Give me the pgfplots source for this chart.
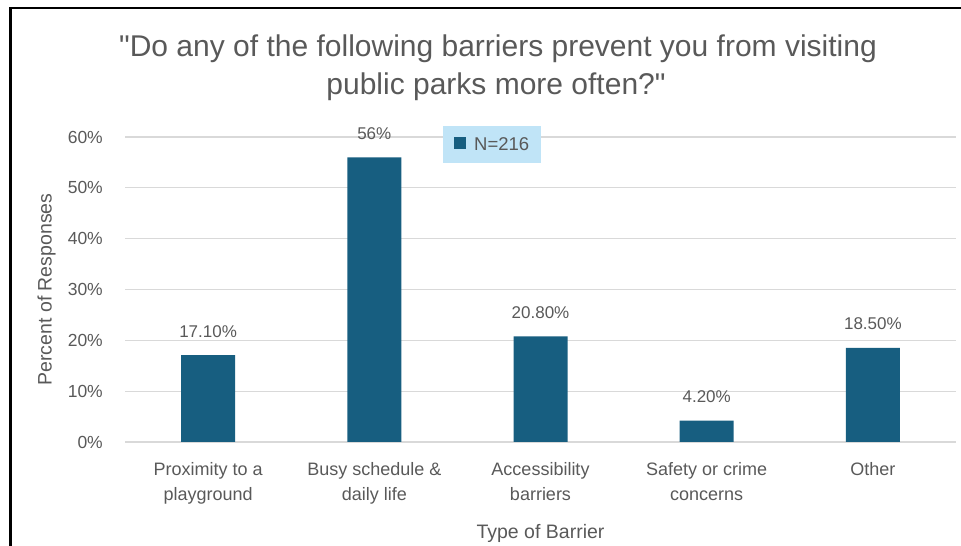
\documentclass[border=0pt]{standalone}
\usepackage{pgfplots}
\pgfplotsset{compat=1.18}
\usepackage{fontspec}
\setmainfont{Liberation Sans}
\newfontfamily\titlefont{Liberation Sans}
\definecolor{barblue}{RGB}{23,94,128}
\definecolor{txtgray}{RGB}{89,89,89}
\definecolor{gridgray}{RGB}{217,217,217}
\definecolor{legblue}{RGB}{192,228,247}
\begin{document}
\begin{tikzpicture}
\useasboundingbox (0,0) rectangle (961bp,546bp);
\draw[line width=2.5bp,black] (10.5bp,0) -- (10.5bp,538bp) -- (961bp,538bp);
\node[anchor=base,text=txtgray,font=\titlefont\fontsize{30bp}{36bp}\selectfont,inner sep=0pt] at (498bp,489bp) {"Do any of the following barriers prevent you from visiting};
\node[anchor=base,text=txtgray,font=\titlefont\fontsize{30bp}{36bp}\selectfont,inner sep=0pt] at (496bp,451bp) {public parks more often?"};
\begin{axis}[
  at={(125bp,104bp)}, anchor=south west,
  scale only axis, width=831bp, height=305bp,
  xmin=-0.5, xmax=4.5, ymin=0, ymax=60,
  axis line style={draw=none},
  major tick length=0pt,
  ymajorgrids, grid style={gridgray, line width=1.3bp},
  ytick={0,10,20,30,40,50,60},
  yticklabel={\pgfmathprintnumber{\tick}\%},
  /pgf/number format/assume math mode=true,
  yticklabel style={font=\fontsize{17.5bp}{20bp}\selectfont, text=txtgray, inner sep=0pt, anchor=east, xshift=-22bp},
  xtick={0,1,2,3,4},
  xticklabels={{Proximity to a\\playground},{Busy schedule \&\\daily life},{Accessibility\\barriers},{Safety or crime\\concerns},{Other}},
  xticklabel style={font=\fontsize{18bp}{25bp}\selectfont, text=txtgray, align=center, inner sep=0pt, anchor=north, yshift=-20bp},
  ylabel={Percent of Responses},
  ylabel style={at={(axis description cs:-0.0945,0.5)}, anchor=center, rotate=0, font=\fontsize{19.5bp}{22bp}\selectfont, text=txtgray, inner sep=0pt},
  xlabel={Type of Barrier},
  xlabel style={at={(axis description cs:0.5,-0.2985)}, anchor=center, font=\fontsize{19.5bp}{22bp}\selectfont, text=txtgray, inner sep=0pt},
  legend style={at={(rel axis cs:0.3827,1.036)}, anchor=north west, fill=legblue, draw=none, inner xsep=10bp, inner ysep=9bp, font=\fontsize{18.5bp}{20bp}\selectfont, text=txtgray},
  legend image code/.code={\fill[#1] (0bp,-4.5bp) rectangle (12bp,7.5bp); \path (-1bp,0) (18bp,0);},
]
\addplot[ybar, bar width=54bp, fill=barblue, draw=none,
  point meta=explicit symbolic,
  nodes near coords,
  nodes near coords style={anchor=base, yshift=18bp, inner sep=0pt, font=\fontsize{17bp}{20bp}\selectfont, text=txtgray}]
  coordinates {(0,17.1) [17.10\%] (1,56) [56\%] (2,20.8) [20.80\%] (3,4.2) [4.20\%] (4,18.5) [18.50\%]};
\addlegendentry{N=216}
\end{axis}
\end{tikzpicture}
\end{document}
